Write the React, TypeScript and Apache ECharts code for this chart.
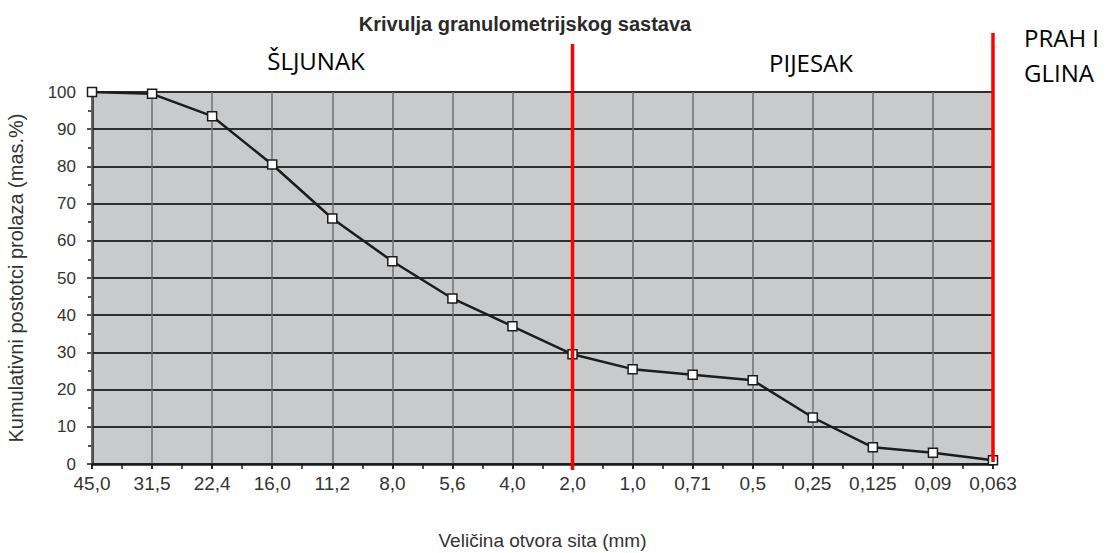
import React, { useEffect, useRef } from "react";
import * as echarts from "echarts";

const categories = ["45,0", "31,5", "22,4", "16,0", "11,2", "8,0", "5,6", "4,0", "2,0", "1,0", "0,71", "0,5", "0,25", "0,125", "0,09", "0,063"];
const passing = [100, 99.5, 93.5, 80.5, 66, 54.5, 44.5, 37, 29.5, 25.5, 24, 22.5, 12.5, 4.5, 3, 1];
const yMin = 0;
const yMax = 100;
const yInterval = 10;
const zoneBoundaries = ["2,0", "0,063"];
const zoneNames = ["ŠLJUNAK", "PIJESAK", "PRAH I", "GLINA"];
const titleText = "Krivulja granulometrijskog sastava";
const yName = "Kumulativni postotci prolaza (mas.%)";
const xName = "Veličina otvora sita (mm)";

export default function App() {
  const ref = useRef<HTMLDivElement>(null);
  useEffect(() => {
    if (!ref.current) return;
    const chart = echarts.init(ref.current, null, { renderer: "svg" });
    const font = "Liberation Sans, Arial, sans-serif";
    const option: any = {
      animation: false,
      backgroundColor: "#ffffff",
      title: {
        text: titleText,
        left: 520,
        top: 9,
        textAlign: "center",
        textStyle: { fontFamily: font, fontSize: 20, fontWeight: "bold", color: "#2a2a2a" },
      },
      grid: {
        left: 92,
        right: 119,
        top: 92,
        bottom: 89,
        containLabel: false,
        outerBoundsMode: "none",
        show: true,
        backgroundColor: "#c9cacb",
        borderWidth: 0,
      },
      xAxis: [
        {
          type: "category",
          data: categories,
          boundaryGap: false,
          name: xName,
          nameLocation: "middle",
          nameGap: 67,
          nameTextStyle: { fontFamily: font, fontSize: 19, color: "#333" },
          axisLine: { lineStyle: { color: "#1a1a1a", width: 2.5 } },
          axisTick: { show: true, interval: 0, length: 5, lineStyle: { color: "#1a1a1a", width: 1.5 } },
          axisLabel: { interval: 0, margin: 10, fontFamily: font, fontSize: 19, color: "#333" },
          splitLine: { show: true, interval: 0, lineStyle: { color: "#707070", width: 1.5 } },
          z: 3,
        },
        {
          type: "value",
          min: 0,
          max: categories.length - 1,
          interval: 0.5,
          position: "bottom",
          axisLine: { show: false },
          axisTick: { show: true, length: 5, lineStyle: { color: "#1a1a1a", width: 1.5 } },
          axisLabel: { show: false },
          splitLine: { show: false },
        },
      ],
      yAxis: {
        type: "value",
        min: yMin,
        max: yMax,
        interval: yInterval,
        name: yName,
        nameLocation: "middle",
        nameGap: 66,
        nameTextStyle: { fontFamily: font, fontSize: 20, color: "#333" },
        axisLine: { show: true, lineStyle: { color: "#1a1a1a", width: 2.5 } },
        axisTick: { show: true, length: 5, lineStyle: { color: "#1a1a1a", width: 1.5 } },
        minorTick: { show: true, splitNumber: 2, length: 4, lineStyle: { color: "#1a1a1a", width: 1.5 } },
        axisLabel: { margin: 16, fontFamily: font, fontSize: 17, color: "#333" },
        splitLine: { show: true, lineStyle: { color: "#2e2e2e", width: 2 } },
      },
      series: [
        {
          type: "line",
          xAxisIndex: 0,
          data: passing,
          symbol: "rect",
          symbolSize: 9,
          showAllSymbol: true,
          lineStyle: { color: "#1c1c1c", width: 2.5 },
          itemStyle: { color: "#ffffff", borderColor: "#1c1c1c", borderWidth: 1.5 },
          z: 5,
        },
      ],
    };
    chart.setOption(option);

    const x1 = chart.convertToPixel({ xAxisIndex: 0 }, zoneBoundaries[0]) as number;
    const x2 = chart.convertToPixel({ xAxisIndex: 0 }, zoneBoundaries[1]) as number;
    const calibri = "Open Sans, Noto Sans, sans-serif";
    chart.setOption({
      graphic: [
        { type: "line", z: 100, shape: { x1: x1, y1: 44, x2: x1, y2: 470 }, style: { stroke: "#ff0000", lineWidth: 3.5 } },
        { type: "line", z: 100, shape: { x1: x2, y1: 33, x2: x2, y2: 462 }, style: { stroke: "#ff0000", lineWidth: 3.5 } },
        { type: "text", x: 316, y: 60, style: { text: zoneNames[0], font: `24px ${calibri}`, fill: "#000", align: "center", verticalAlign: "middle" } },
        { type: "text", x: 811, y: 62, style: { text: zoneNames[1], font: `24px ${calibri}`, fill: "#000", align: "center", verticalAlign: "middle" } },
        { type: "text", x: 1024, y: 37, style: { text: zoneNames[2], font: `24px ${calibri}`, fill: "#000", align: "left", verticalAlign: "middle" } },
        { type: "text", x: 1024, y: 72, style: { text: zoneNames[3], font: `24px ${calibri}`, fill: "#000", align: "left", verticalAlign: "middle" } },
      ],
    });
    return () => chart.dispose();
  }, []);
  return <div ref={ref} style={{ position: "absolute", left: 0, top: 0, width: 1112, height: 553 }} />;
}
